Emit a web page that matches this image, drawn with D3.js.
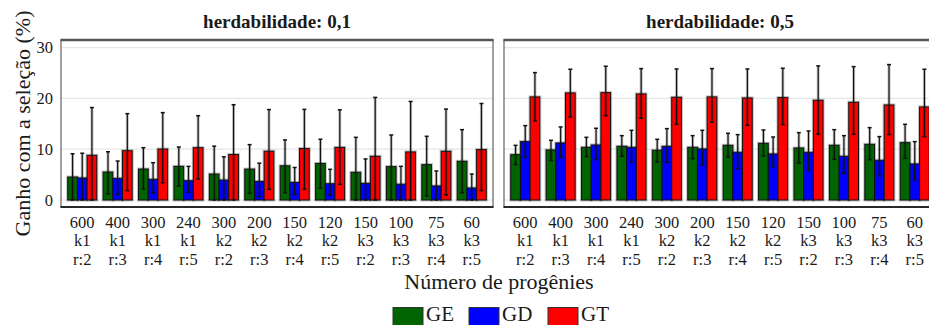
<!DOCTYPE html>
<html>
<head>
<meta charset="utf-8">
<script src="https://cdn.jsdelivr.net/npm/d3@7"></script>
<style>
  html, body { margin: 0; padding: 0; background: #fff; }
  svg { display: block; }
  svg text { fill: #1a1a1a; }
</style>
</head>
<body>
<svg id="chart" width="929" height="325"></svg>
<script>
// Progeny configurations (number of progenies / k / repetitions)
const nProg = ["600", "400", "300", "240", "300", "200", "150", "120", "150", "100", "75", "60"];
const kLab  = ["k1", "k1", "k1", "k1", "k2", "k2", "k2", "k2", "k3", "k3", "k3", "k3"];
const rLab  = ["r:2", "r:3", "r:4", "r:5", "r:2", "r:3", "r:4", "r:5", "r:2", "r:3", "r:4", "r:5"];

const series = ["GE", "GD", "GT"];
const seriesColors = ["#006400", "#0000ff", "#ff0000"];
const panelTitles = ["herdabilidade: 0,1", "herdabilidade: 0,5"];
const yTicks = [0, 10, 20, 30];

// heritability 0.1 — mean gain and error-bar limits (%)
const geH1   = [4.52, 5.50, 6.10, 6.62, 5.10, 6.08, 6.73, 7.19, 5.45, 6.57, 6.96, 7.62];
const geH1Lo = [0, 1.18, 2.16, 2.75, 0, 1.30, 1.44, 2.35, 0, 0, 0.79, 1.44];
const geH1Hi = [9.10, 9.50, 10.30, 10.43, 10.60, 10.90, 11.83, 11.96, 12.34, 12.80, 12.54, 13.85];
const gdH1   = [4.33, 4.26, 4.07, 3.80, 3.92, 3.66, 3.46, 3.20, 3.28, 3.09, 2.76, 2.36];
const gdH1Lo = [0, 1.10, 1.38, 1.50, 0, 0.65, 1.00, 0.95, 0, 0, 0, 0];
const gdH1Hi = [9.20, 7.67, 7.34, 6.62, 8.50, 7.25, 6.40, 6.04, 8.08, 6.63, 5.71, 5.12];
const gtH1   = [8.80, 9.70, 10.03, 10.30, 8.95, 9.60, 10.13, 10.35, 8.60, 9.46, 9.59, 9.92];
const gtH1Lo = [0, 1.84, 3.40, 4.13, 0, 2.10, 2.10, 3.10, 0, 0, 0.98, 1.84];
const gtH1Hi = [18.20, 17.00, 17.20, 16.60, 18.76, 17.80, 17.84, 17.75, 20.20, 19.40, 17.90, 19.00];

// heritability 0.5
const geH5   = [8.93, 9.85, 10.37, 10.57, 9.78, 10.37, 10.77, 11.16, 10.24, 10.77, 10.96, 11.29];
const geH5Lo = [6.96, 7.75, 8.54, 8.60, 7.49, 8.14, 8.47, 8.67, 7.29, 8.00, 7.94, 8.20];
const geH5Hi = [10.76, 11.75, 12.34, 12.67, 11.95, 12.67, 13.13, 13.79, 13.26, 13.85, 14.25, 14.90];
const gdH5   = [11.49, 11.23, 10.83, 10.37, 10.57, 10.05, 9.39, 9.06, 9.39, 8.60, 7.81, 7.09];
const gdH5Lo = [8.47, 8.34, 7.94, 7.49, 7.42, 6.90, 6.17, 6.57, 5.84, 5.25, 4.73, 3.94];
const gdH5Hi = [14.64, 14.38, 14.12, 13.72, 14.05, 13.72, 12.87, 12.40, 13.59, 12.67, 12.48, 11.49];
const gtH5   = [20.29, 21.08, 21.14, 20.88, 20.22, 20.29, 20.09, 20.16, 19.63, 19.24, 18.71, 18.32];
const gtH5Lo = [15.56, 16.35, 16.60, 16.09, 14.90, 15.30, 14.70, 14.84, 12.93, 12.93, 12.87, 12.47];
const gtH5Hi = [25.08, 25.74, 26.33, 25.87, 25.80, 25.87, 25.80, 25.94, 26.40, 26.26, 26.66, 25.74];

const panelData = [
  { mean: [geH1, gdH1, gtH1], lo: [geH1Lo, gdH1Lo, gtH1Lo], hi: [geH1Hi, gdH1Hi, gtH1Hi] },
  { mean: [geH5, gdH5, gtH5], lo: [geH5Lo, gdH5Lo, gtH5Lo], hi: [geH5Hi, gdH5Hi, gtH5Hi] }
];

const FONT = "'Liberation Serif', 'Times New Roman', Times, 'DejaVu Serif', serif";
const svg = d3.select("#chart").attr("font-family", FONT);
const panelTop = 40, panelBottom = 207, panelW = 432;
const panelLefts = [61, 504];

const y = d3.scaleLinear().domain([-1.38, 31.5]).range([panelBottom, panelTop]);
const groups = d3.range(nProg.length);

panelData.forEach((pd, p) => {
  const x0 = panelLefts[p];
  const g = svg.append("g").attr("transform", `translate(${x0},0)`);

  const x = d3.scaleBand().domain(groups).range([0, panelW]).paddingInner(0).paddingOuter(0.1);
  const step = x.step();
  const xs = d3.scaleBand().domain(series).range([0.09 * step, 0.91 * step]).padding(0);

  // background grid
  g.append("g").selectAll("line").data(yTicks).join("line")
    .attr("x1", 0).attr("x2", panelW)
    .attr("y1", d => y(d)).attr("y2", d => y(d))
    .attr("stroke", "#e6e6e6").attr("stroke-width", 1.2);

  // strip title
  svg.append("text")
    .attr("x", x0 + panelW / 2).attr("y", 27.5)
    .attr("text-anchor", "middle")
    .attr("font-family", FONT)
    .style("font-size", "19px").style("font-weight", "bold")
    .text(panelTitles[p]);

  // bars
  const bars = [];
  series.forEach((s, si) => groups.forEach(i => bars.push({ i, si, v: pd.mean[si][i], lo: pd.lo[si][i], hi: pd.hi[si][i] })));

  const barG = g.append("g");
  barG.selectAll("rect.halo").data(bars).join("rect")
    .attr("class", "halo")
    .attr("x", d => x(d.i) + xs(series[d.si]))
    .attr("width", xs.bandwidth())
    .attr("y", d => y(d.v))
    .attr("height", d => y(0) - y(d.v))
    .attr("fill", "none").attr("stroke", "#000").attr("stroke-opacity", 0.25).attr("stroke-width", 3);
  barG.selectAll("rect.bar").data(bars).join("rect")
    .attr("class", "bar")
    .attr("x", d => x(d.i) + xs(series[d.si]))
    .attr("width", xs.bandwidth())
    .attr("y", d => y(d.v))
    .attr("height", d => y(0) - y(d.v))
    .attr("fill", d => seriesColors[d.si])
    .attr("stroke", "#111").attr("stroke-width", 1);

  // error bars
  const errG = g.append("g").attr("stroke", "#111");
  const cx = d => x(d.i) + xs(series[d.si]) + xs.bandwidth() / 2;
  errG.selectAll("line.halo").data(bars).join("line")
    .attr("class", "halo")
    .attr("x1", cx).attr("x2", cx)
    .attr("y1", d => y(d.lo)).attr("y2", d => y(d.hi))
    .attr("stroke-opacity", 0.25).attr("stroke-width", 3);
  errG.selectAll("line.v").data(bars).join("line")
    .attr("class", "v")
    .attr("x1", cx).attr("x2", cx)
    .attr("y1", d => y(d.lo)).attr("y2", d => y(d.hi))
    .attr("stroke-width", 1.2);
  ["lo", "hi"].forEach(k => {
    errG.selectAll("line.cap-" + k).data(bars).join("line")
      .attr("class", "cap-" + k)
      .attr("x1", d => cx(d) - 2).attr("x2", d => cx(d) + 2)
      .attr("y1", d => y(d[k])).attr("y2", d => y(d[k]))
      .attr("stroke-width", 1.5);
  });

  // panel border
  g.append("rect").attr("x", 0).attr("y", panelTop).attr("width", panelW).attr("height", panelBottom - panelTop)
    .attr("fill", "none").attr("stroke", "#444").attr("stroke-width", 1);
  g.append("line").attr("x1", -0.5).attr("x2", panelW + 0.5).attr("y1", panelTop).attr("y2", panelTop)
    .attr("stroke", "#555").attr("stroke-width", 2.5);
  g.append("line").attr("x1", -0.5).attr("x2", panelW + 0.5).attr("y1", panelBottom).attr("y2", panelBottom)
    .attr("stroke", "#000").attr("stroke-width", 1.5);

  // x axis: three-line category labels
  const xAxis = g.append("g").attr("transform", `translate(0,${panelBottom})`)
    .call(d3.axisBottom(x).tickSize(0).tickFormat(() => ""));
  xAxis.attr("font-family", FONT).attr("font-size", 16.5);
  xAxis.select(".domain").remove();
  xAxis.selectAll(".tick text").each(function(i) {
    const t = d3.select(this).attr("y", 0).attr("dy", null).attr("fill", "#1a1a1a");
    [nProg[i], kLab[i], rLab[i]].forEach((s, li) => {
      t.append("tspan").attr("x", 0).attr("y", 20.5 + li * 18.8).text(s);
    });
  });

  // y axis labels on the first panel only
  if (p === 0) {
    const yAxis = g.append("g").call(d3.axisLeft(y).tickValues(yTicks).tickSize(0).tickPadding(8));
    yAxis.attr("font-family", FONT).attr("font-size", 16.5);
    yAxis.select(".domain").remove();
    yAxis.selectAll(".tick text").attr("fill", "#1a1a1a");
  }
});

// axis titles
svg.append("text")
  .attr("transform", `translate(30,${(panelTop + panelBottom) / 2}) rotate(-90)`)
  .attr("text-anchor", "middle")
  .attr("font-family", FONT)
  .style("font-size", "22px")
  .text("Ganho com a seleção (%)");

svg.append("text")
  .attr("x", 499).attr("y", 288.5)
  .attr("text-anchor", "middle")
  .attr("font-family", FONT)
  .style("font-size", "22px")
  .text("Número de progênies");

// legend
const legendX = [393, 469, 548];
const legend = svg.append("g");
series.forEach((s, si) => {
  legend.append("rect")
    .attr("x", legendX[si]).attr("y", 307.5).attr("width", 30).attr("height", 20)
    .attr("fill", seriesColors[si]).attr("stroke", "#333").attr("stroke-width", 1);
  legend.append("text")
    .attr("x", legendX[si] + 33).attr("y", 320.5)
    .attr("font-family", FONT)
    .style("font-size", "21px")
    .text(s);
});
</script>
</body>
</html>
